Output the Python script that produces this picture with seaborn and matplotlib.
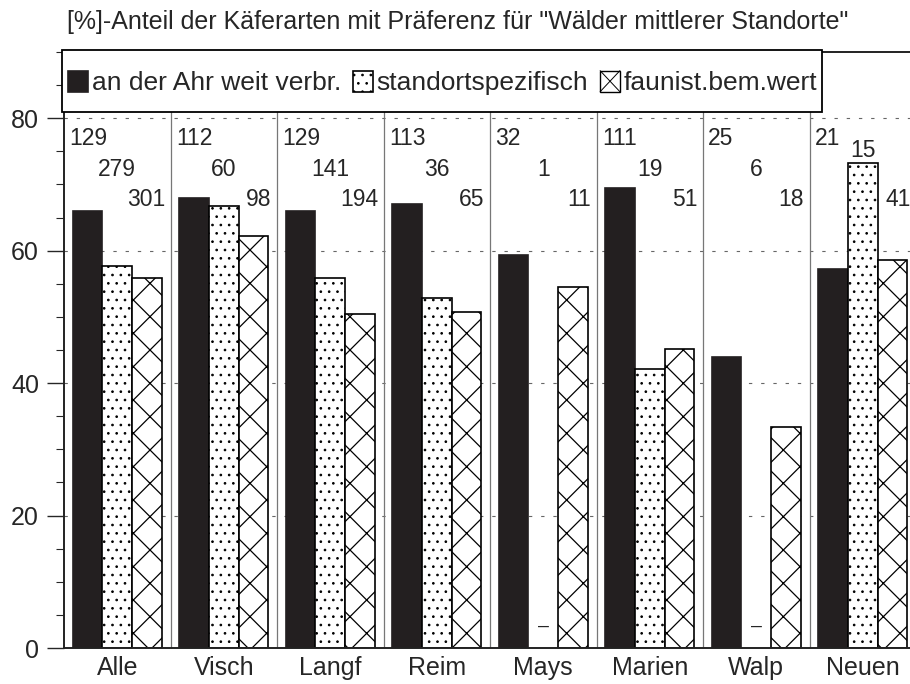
import numpy as np
import pandas as pd
import matplotlib
matplotlib.use("Agg")
import matplotlib.pyplot as plt
from matplotlib.patches import Rectangle
from matplotlib.lines import Line2D
from matplotlib.legend_handler import HandlerPatch
import seaborn as sns

# %% data ---------------------------------------------------------------
sites = ["Alle", "Visch", "Langf", "Reim", "Mays", "Marien", "Walp", "Neuen"]
groups = ["an der Ahr weit verbr.", "standortspezifisch", "faunist.bem.wert"]
pct_weit = [66.0, 67.9, 66.0, 67.1, 59.4, 69.4, 44.0, 57.2]
pct_spez = [57.7, 66.7, 55.9, 52.9, np.nan, 42.1, np.nan, 73.3]
pct_faun = [55.8, 62.2, 50.4, 50.8, 54.5, 45.1, 33.3, 58.6]
n_weit = [129, 112, 129, 113, 32, 111, 25, 21]
n_spez = [279, 60, 141, 36, 1, 19, 6, 15]
n_faun = [301, 98, 194, 65, 11, 51, 18, 41]
title = '[%]-Anteil der Käferarten mit Präferenz für "Wälder mittlerer Standorte"'

df = pd.DataFrame({
    "site": sites * 3,
    "group": np.repeat(groups, len(sites)),
    "pct": pct_weit + pct_spez + pct_faun,
})


class HandlerCross(HandlerPatch):
    # legend box with one big X, like the original key
    def create_artists(self, legend, orig_handle, xdescent, ydescent,
                       width, height, fontsize, trans):
        x0, y0 = -xdescent, -ydescent
        box = Rectangle((x0, y0), width, height, facecolor="white",
                        edgecolor="black", lw=1.0, transform=trans)
        d1 = Line2D([x0, x0 + width], [y0, y0 + height], color="black", lw=0.7, transform=trans)
        d2 = Line2D([x0, x0 + width], [y0 + height, y0], color="black", lw=0.7, transform=trans)
        return [box, d1, d2]


# %% style --------------------------------------------------------------
sns.set_style("ticks")
plt.rcParams["font.family"] = ["Liberation Sans", "DejaVu Sans"]
plt.rcParams["hatch.linewidth"] = 0.7

fig = plt.figure(figsize=(9.1, 6.84), dpi=100)
ax = fig.add_axes([64 / 910, 36 / 684, 852 / 910, 596 / 684])

# grid + group separators behind the bars
for yv in [20, 40, 60, 80]:
    ax.axhline(yv, color="#666666", lw=0.8, ls=(0, (3, 8)), zorder=0)
for i in range(len(sites) - 1):
    ax.axvline(i + 0.5, color="#777777", lw=0.9, zorder=0)

sns.barplot(data=df, x="site", y="pct", hue="group", order=sites,
            hue_order=groups, width=0.84, errorbar=None,
            palette=["#231f20", "white", "white"], edgecolor="black",
            linewidth=1.2, saturation=1, legend=False, ax=ax, zorder=2)

for k, (cont, hatch) in enumerate(zip(ax.containers, [None, "..", "x"])):
    for p in cont.patches:
        if hatch:
            p.set_hatch(hatch)
        if k == 0:
            p.set_edgecolor("#231f20")
        if k == 2 and hasattr(p, "set_hatch_linewidth"):
            p.set_hatch_linewidth(0.9)

# counts above the groups
for i in range(len(sites)):
    ax.text(i - 0.45, 76.9, str(n_weit[i]), ha="left", va="center", fontsize=16.5)
    y2 = 72.2
    if not np.isnan(pct_spez[i]):
        y2 = max(y2, pct_spez[i] + 1.9)
    ax.text(i, y2, str(n_spez[i]), ha="center", va="center", fontsize=16.5)
    ax.text(i + 0.45, 67.8, str(n_faun[i]), ha="right", va="center", fontsize=16.5)
    if np.isnan(pct_spez[i]):
        ax.text(i, 3.2, "–", ha="center", va="center", fontsize=14)

# axes --------------------------------------------------------------------
ax.set_yticks([0, 20, 40, 60, 80])
ax.set_yticks(np.arange(0, 91, 5), minor=True)
ax.tick_params(axis="y", which="major", length=12, width=1, pad=6, labelsize=18)
ax.tick_params(axis="y", which="minor", length=6, width=0.8)
ax.tick_params(axis="x", length=0, pad=6, labelsize=18)
ax.set_xlabel("")
ax.set_ylabel("")
for s in ["left", "bottom", "top"]:
    ax.spines[s].set_linewidth(1.4)
    ax.spines[s].set_color("#222222")
ax.spines["right"].set_visible(False)

# legend box drawn separately so its size can follow the original
ax.add_patch(Rectangle((62 / 910, 1 - 112 / 684), 760 / 910, 62 / 684,
                       transform=fig.transFigure, clip_on=False,
                       facecolor="white", edgecolor="black", lw=1.3, zorder=4))
handles = [c.patches[0] for c in ax.containers]
leg = ax.legend(handles=handles, labels=groups, ncol=3, loc="center left",
                bbox_to_anchor=(68 / 910, 1 - 83 / 684), bbox_transform=fig.transFigure,
                frameon=False, fontsize=19, handlelength=0.75, handleheight=0.85,
                handletextpad=0.15, columnspacing=0.45, borderpad=0, borderaxespad=0,
                handler_map={handles[2]: HandlerCross()})
leg.set_zorder(5)
ax.set_xlim(-0.5, 7.5)
ax.set_ylim(0, 90)

fig.text(458 / 910, 1 - 22 / 684, title, ha="center", va="center", fontsize=18)

fig.savefig("out.png", dpi=100)
plt.close("all")
